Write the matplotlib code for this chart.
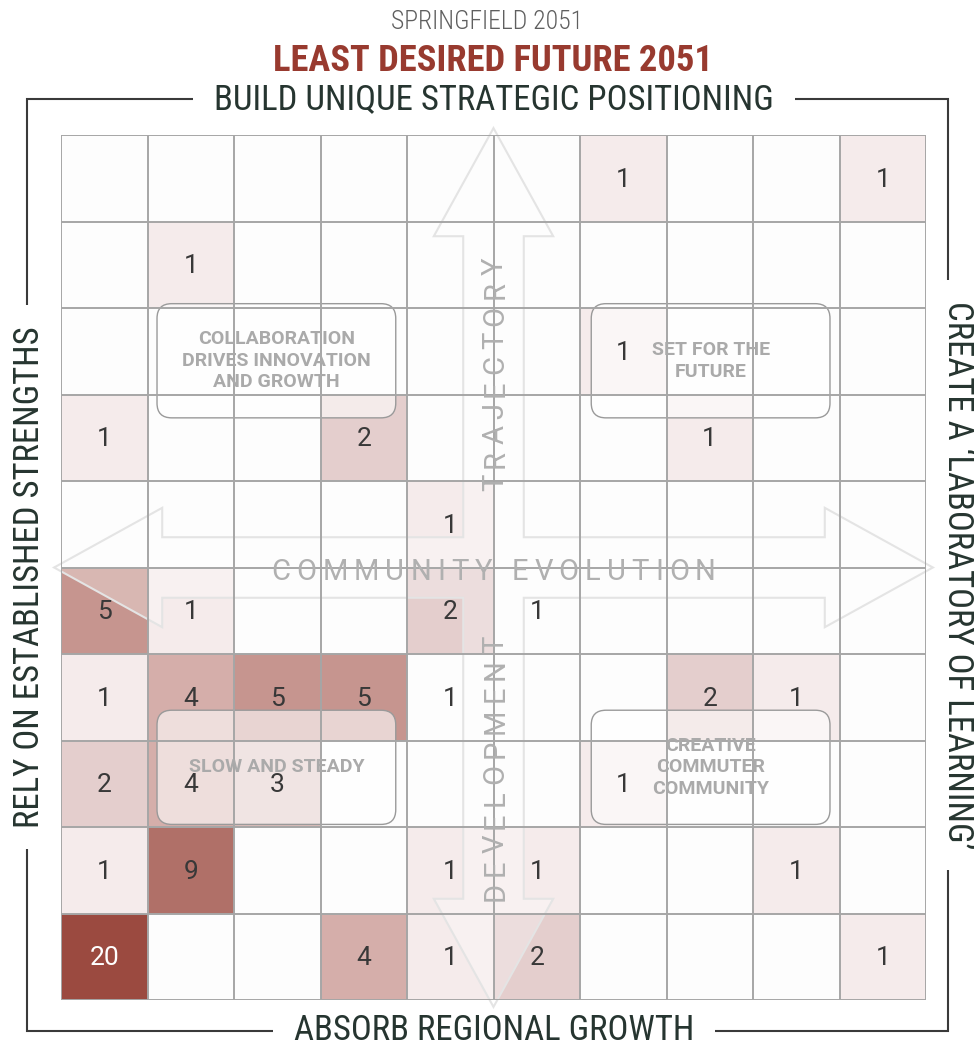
import numpy as np
import matplotlib
matplotlib.use("Agg")
import matplotlib.pyplot as plt
from matplotlib import font_manager
from matplotlib.font_manager import FontProperties
from matplotlib.textpath import TextToPath
from matplotlib.colors import LinearSegmentedColormap, Normalize
from matplotlib.patches import Polygon, FancyBboxPatch, Rectangle

# survey counts, row 0 = top of the grid, col 0 = left
counts = np.array([
    [0, 0, 0, 0, 0, 0, 1, 0, 0, 1],
    [0, 1, 0, 0, 0, 0, 0, 0, 0, 0],
    [0, 0, 0, 0, 0, 0, 1, 0, 0, 0],
    [1, 0, 0, 2, 0, 0, 0, 1, 0, 0],
    [0, 0, 0, 0, 1, 0, 0, 0, 0, 0],
    [5, 1, 0, 0, 2, 1, 0, 0, 0, 0],
    [1, 4, 5, 5, 1, 0, 0, 2, 1, 0],
    [2, 4, 3, 0, 0, 0, 1, 0, 0, 0],
    [1, 9, 0, 0, 1, 1, 0, 0, 1, 0],
    [20, 0, 0, 4, 1, 2, 0, 0, 0, 1],
])
# cells that carry a number but are left unshaded in the original
unshaded = [(5, 5), (6, 4)]

scenarios = ["COLLABORATION\nDRIVES INNOVATION\nAND GROWTH", "SET FOR THE\nFUTURE",
             "SLOW AND STEADY", "CREATIVE\nCOMMUTER\nCOMMUNITY"]
axis_top = "BUILD UNIQUE STRATEGIC POSITIONING"
axis_bottom = "ABSORB REGIONAL GROWTH"
axis_left = "RELY ON ESTABLISHED STRENGTHS"
axis_right = "CREATE A \u2018LABORATORY OF LEARNING\u2019"
arrow_h = "COMMUNITY EVOLUTION"
arrow_v = ["DEVELOPMENT", "TRAJECTORY"]
supertitle = "SPRINGFIELD 2051"
title = "LEAST DESIRED FUTURE 2051"

names = {f.name for f in font_manager.fontManager.ttflist}
narrow = 'Roboto'
for cand in ['Roboto Condensed', 'Liberation Sans Narrow', 'Open Sans Condensed']:
    if cand in names:
        narrow = cand
        break

W, H = 974, 1046
fig = plt.figure(figsize=(W / 100, H / 100), dpi=100)
fig.patch.set_facecolor('white')

def fx(x): return x / W
def fy(y): return 1 - y / H

gx0, gx1, gy0, gy1 = 61, 926, 135, 1000
cell_px = (gx1 - gx0) / 10
ax = fig.add_axes([fx(gx0), fy(gy1), fx(gx1 - gx0), (gy1 - gy0) / H])
ax.set_xlim(0, 10)
ax.set_ylim(10, 0)
ax.axis('off')

shade = counts.astype(float).copy()
for r, c in unshaded:
    shade[r, c] = 0
cmap = LinearSegmentedColormap.from_list('reds', [
    (0.0, '#fdfdfd'), (0.05, '#f5eaea'), (0.10, '#e3cdcc'), (0.20, '#d5aeaa'),
    (0.25, '#c6958f'), (0.45, '#b07068'), (1.0, '#9b4a40')])
ax.pcolormesh(np.arange(11), np.arange(11), shade, cmap=cmap,
              norm=Normalize(0, 20), zorder=1)

# big cross arrow (translucent white)
c, o, hl, hw, sw = 5.0, 0.08, 1.25, 0.69, 0.35
n = 10
pts = [(-o, c), (-o + hl, c - hw), (-o + hl, c - sw), (c - sw, c - sw), (c - sw, -o + hl),
       (c - hw, -o + hl), (c, -o), (c + hw, -o + hl), (c + sw, -o + hl), (c + sw, c - sw),
       (n + o - hl, c - sw), (n + o - hl, c - hw), (n + o, c), (n + o - hl, c + hw),
       (n + o - hl, c + sw), (c + sw, c + sw), (c + sw, n + o - hl), (c + hw, n + o - hl),
       (c, n + o), (c - hw, n + o - hl), (c - sw, n + o - hl), (c - sw, c + sw),
       (-o + hl, c + sw), (-o + hl, c + hw)]
ax.add_patch(Polygon(pts, closed=True, facecolor=(1, 1, 1, 0.32), edgecolor='#e4e4e4',
                     lw=1.5, zorder=2, clip_on=False))

# scenario boxes
box_w, box_h = 2.76, 1.32
centers = [(2.49, 2.61), (7.51, 2.61), (2.49, 7.31), (7.51, 7.31)]
for label, (bx, by) in zip(scenarios, centers):
    ax.add_patch(FancyBboxPatch((bx - box_w / 2, by - box_h / 2), box_w, box_h,
                                boxstyle="round,pad=0,rounding_size=0.17",
                                facecolor=(1, 1, 1, 0.6), edgecolor='#9a9a9a', lw=1.0, zorder=3))
    ax.text(bx, by, label, ha='center', va='center', fontsize=14, fontweight='bold',
            color='#aaaaaa', family='Roboto', linespacing=1.25, zorder=7)

# grid lines
ax.hlines(np.arange(11), 0, 10, colors='#a6a6a6', lw=1.4, zorder=5)
ax.vlines(np.arange(11), 0, 10, colors='#a6a6a6', lw=1.4, zorder=5)

# counts
for r in range(10):
    for k in range(10):
        v = counts[r, k]
        if v:
            ax.text(k + 0.5, r + 0.52, str(v), ha='center', va='center', fontsize=19,
                    family='Roboto',
                    color='white' if v >= 15 else '#383838', zorder=6)

# arrow captions with even tracking between glyphs
cap_prop = FontProperties(family='Roboto', size=21)
ttp = TextToPath()

def glyph_widths(s):
    return np.array([ttp.get_text_width_height_descent(ch, cap_prop, ismath=False)[0]
                     for ch in s]) * 100 / 72 / cell_px

def tracked(s, gap):
    w = glyph_widths(s)
    total = w.sum() + gap * (len(s) - 1)
    start = np.concatenate([[0], np.cumsum(w[:-1] + gap)])
    return start + w / 2 - total / 2

gap = 0.07
for ch, xo in zip(arrow_h, tracked(arrow_h, gap)):
    ax.text(c + xo, 5.05, ch, ha='center', va='center', fontproperties=cap_prop,
            color='#b0b0b0', zorder=6)
for word, yc in zip(arrow_v, [7.32, 2.77]):
    for ch, yo in zip(word, tracked(word, gap)):
        ax.text(c + 0.02, yc - yo, ch, ha='center', va='center', rotation=90,
                fontproperties=cap_prop, color='#b0b0b0', zorder=6)

# outer frame with axis labels (label backgrounds sit under the grid axes)
fig.add_artist(Rectangle((fx(27), fy(1031)), fx(948 - 27), (1031 - 99) / H, fill=False,
                         edgecolor='#3a3a3a', lw=1.5, zorder=-2))
lab = dict(family=narrow, fontsize=25, color='#263530', ha='center', va='center',
           zorder=-1, bbox=dict(facecolor='white', edgecolor='none', pad=15))
fig.text(fx(494), fy(100), axis_top, **lab)
fig.text(fx(494), fy(1031), axis_bottom, **lab)
fig.text(fx(30), fy(577), axis_left, rotation=90, **lab)
fig.text(fx(958), fy(575), axis_right, rotation=-90, **lab)

fig.text(fx(487), fy(22), supertitle, ha='center', va='center', family=narrow,
         fontsize=18.5, fontweight='light', color='#5f5f5f')
fig.text(fx(493), fy(61), title, ha='center', va='center', family=narrow,
         fontsize=26.3, fontweight='bold', color='#983a2f')

fig.savefig('out.png', dpi=100, facecolor='white')
